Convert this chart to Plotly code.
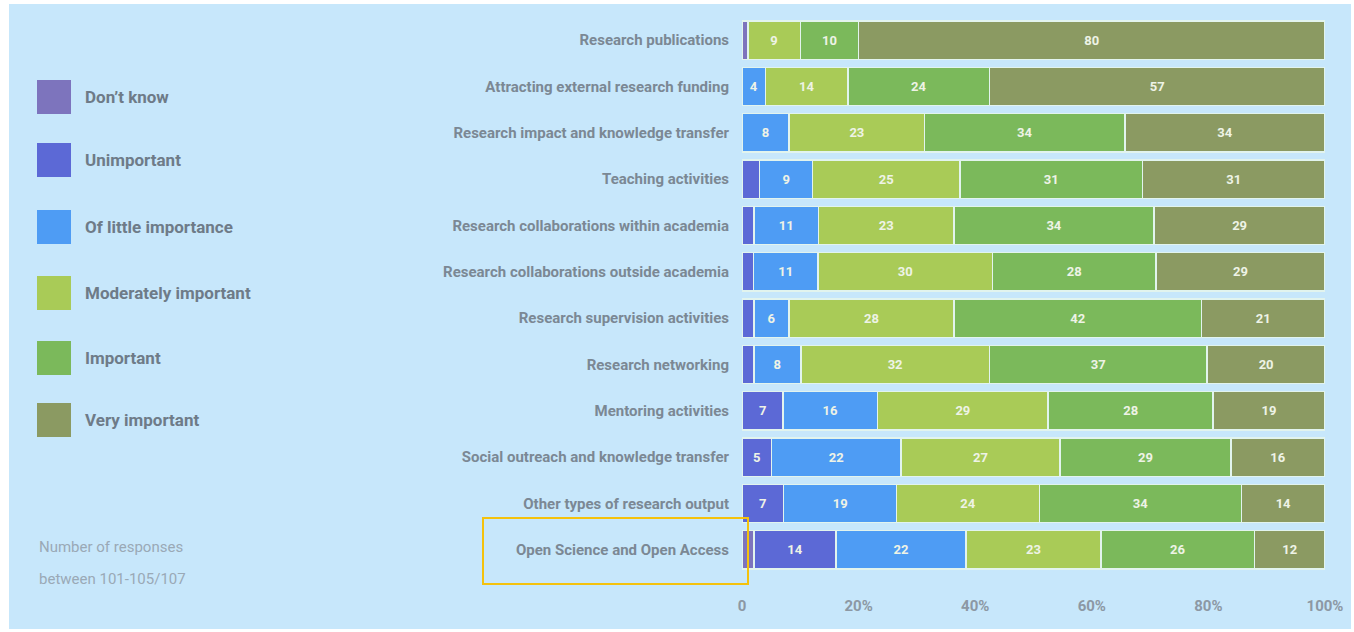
import plotly.graph_objects as go

categories = [
    "Research publications",
    "Attracting external research funding",
    "Research impact and knowledge transfer",
    "Teaching activities",
    "Research collaborations within academia",
    "Research collaborations outside academia",
    "Research supervision activities",
    "Research networking",
    "Mentoring activities",
    "Social outreach and knowledge transfer",
    "Other types of research output",
    "Open Science and Open Access",
]

series_names = ["Don’t know", "Unimportant", "Of little importance",
                "Moderately important", "Important", "Very important"]

dont_know   = [1, 0, 0, 0, 0, 0, 0, 0, 0, 0, 0, 2]
unimportant = [0, 0, 0, 3, 2, 2, 2, 2, 7, 5, 7, 14]
little      = [0, 4, 8, 9, 11, 11, 6, 8, 16, 22, 19, 22]
moderately  = [9, 14, 23, 25, 23, 30, 28, 32, 29, 27, 24, 23]
important   = [10, 24, 34, 31, 34, 28, 42, 37, 28, 29, 34, 26]
very        = [80, 57, 34, 31, 29, 29, 21, 20, 19, 16, 14, 12]

tick_vals = [0, 20, 40, 60, 80, 100]
tick_text = ["0", "20%", "40%", "60%", "80%", "100%"]

note_lines = ["Number of responses", "between 101-105/107"]

colors = ["#7d74bd", "#5c69d6", "#4e9cf4", "#a9cb57", "#7bb95b", "#8b9a62"]
series = [dont_know, unimportant, little, moderately, important, very]

W, H = 1354, 632
L, R, T, B = 742, 29, 17, 59
PW, PH = W - L - R, H - T - B

def px(x):
    return (x - L) / PW

def py(y):
    return 1 - (y - T) / PH

FONT = "Roboto, Liberation Sans, sans-serif"

fig = go.Figure()
for name, vals, col in zip(series_names, series, colors):
    fig.add_trace(go.Bar(
        y=categories, x=vals, name=name, orientation="h",
        marker=dict(color=col, line=dict(color="#e2f4ee", width=1.5)),
        text=[f"<b>{v}</b>" if v >= 4 else "" for v in vals],
        textposition="inside", insidetextanchor="middle",
        textfont=dict(color="#eef3e6", size=13, family=FONT),
        textangle=0,
        showlegend=False,
    ))

shapes = []
annotations = []
# background with thin white frame
shapes.append(dict(type="rect", xref="paper", yref="paper",
                   x0=px(9), x1=px(1351), y0=py(629), y1=py(4),
                   fillcolor="#c7e7fb", line=dict(width=0), layer="below"))

# legend
leg_y = [97, 160, 227, 293, 358, 420]
for name, col, yc in zip(series_names, colors, leg_y):
    shapes.append(dict(type="rect", xref="paper", yref="paper",
                       x0=px(37), x1=px(71), y0=py(yc + 17), y1=py(yc - 17),
                       fillcolor=col, line=dict(width=0)))
    annotations.append(dict(x=px(83), y=py(yc), xref="paper", yref="paper",
                            text=f"<b>{name}</b>", showarrow=False,
                            xanchor="left", yanchor="middle",
                            font=dict(size=17, color="#6e7b88", family=FONT)))

for i, line in enumerate(note_lines):
    annotations.append(dict(x=px(37), y=py(547 + 32 * i), xref="paper", yref="paper",
                            text=line, showarrow=False, xanchor="left", yanchor="middle",
                            font=dict(size=15, color="#9aa9b6", family=FONT)))

# yellow highlight box
shapes.append(dict(type="rect", xref="paper", yref="paper",
                   x0=px(483), x1=px(748), y0=py(584), y1=py(518),
                   line=dict(color="#f4c20d", width=2), fillcolor="rgba(0,0,0,0)"))

fig.update_layout(
    width=W, height=H,
    margin=dict(l=L, r=R, t=T, b=B),
    barmode="stack", barnorm="percent", bargap=0.17,
    paper_bgcolor="white", plot_bgcolor="rgba(0,0,0,0)",
    shapes=shapes, annotations=annotations,
    font=dict(family=FONT),
)
fig.update_xaxes(range=[0, 100], tickvals=tick_vals, ticktext=[f"<b>{t}</b>" for t in tick_text],
                 showgrid=False, zeroline=False, showline=False,
                 tickfont=dict(size=15, color="#8c98a4", family=FONT),
                 ticklabelstandoff=22, fixedrange=True)
fig.update_yaxes(autorange="reversed", tickvals=categories,
                 ticktext=[f"<b>{c}</b>" for c in categories],
                 showgrid=False, zeroline=False, showline=False,
                 tickfont=dict(size=15, color="#7b8894", family=FONT),
                 ticklabelstandoff=12, fixedrange=True)

fig.write_html("out.html", config={"displayModeBar": False},
               post_script="document.body.style.margin='0';document.body.style.overflow='hidden';")
